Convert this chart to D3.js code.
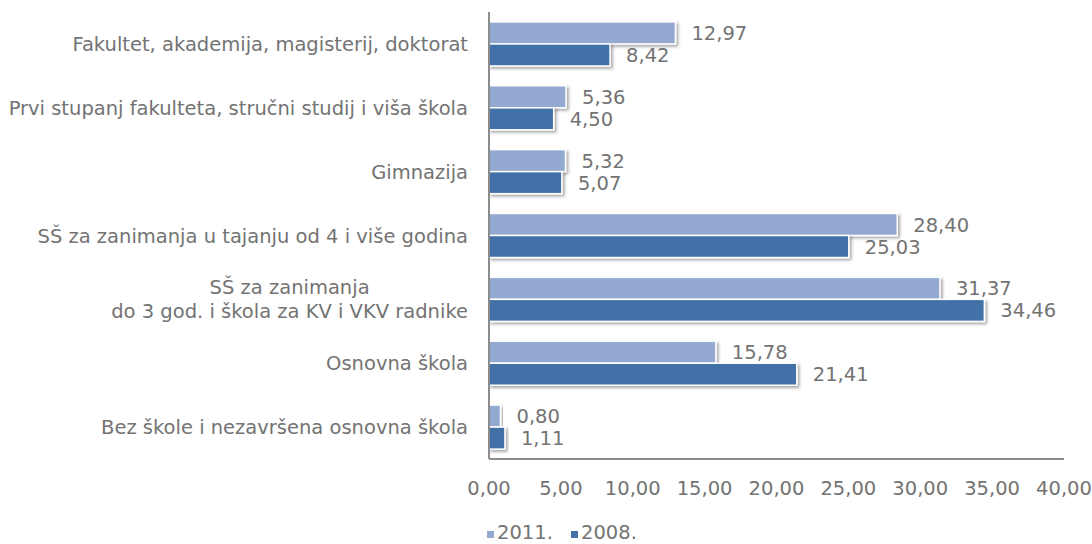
<!DOCTYPE html>
<html>
<head>
<meta charset="utf-8">
<script src="https://cdn.jsdelivr.net/npm/d3@7"></script>
<style>
  body { margin: 0; background: #fff; }
  text { font-family: 'DejaVu Sans', sans-serif; fill: #737373; }
</style>
</head>
<body>
<div id="chart"></div>
<script>
const width = 1092
const height = 544

const categories = [
  'Fakultet, akademija, magisterij, doktorat',
  'Prvi stupanj fakulteta, stručni studij i viša škola',
  'Gimnazija',
  'SŠ za zanimanja u tajanju od 4 i više godina',
  'SŠ za zanimanja\ndo 3 god. i škola za KV i VKV radnike',
  'Osnovna škola',
  'Bez škole i nezavršena osnovna škola'
]
const seriesNames = ['2011.', '2008.']
const values2011 = [12.97, 5.36, 5.32, 28.40, 31.37, 15.78, 0.80]
const values2008 = [8.42, 4.50, 5.07, 25.03, 34.46, 21.41, 1.11]
const xTicks = [0, 5, 10, 15, 20, 25, 30, 35, 40]
const colors = ['#94a9d1', '#4371a8']

const fmt = (v) => v.toFixed(2).replace('.', ',')
const fontSize = 19.5

const svg = d3.select('#chart').append('svg').attr('width', width).attr('height', height)

const defs = svg.append('defs')
const shadow = defs.append('filter').attr('id', 'shadow').attr('x', '-10%').attr('y', '-30%').attr('width', '130%').attr('height', '180%')
shadow.append('feDropShadow').attr('dx', 2).attr('dy', 2).attr('stdDeviation', 1.6)
  .attr('flood-color', '#000').attr('flood-opacity', 0.35)

const x = d3.scaleLinear().domain([0, 40]).range([489, 1064])
const y = d3.scaleBand().domain(categories).range([12, 459]).paddingInner(0.31).paddingOuter(0.155)
const ySub = d3.scaleBand().domain(seriesNames).range([0, y.bandwidth()])

const data = categories.flatMap((c, i) => [
  { cat: c, series: seriesNames[0], value: values2011[i], color: colors[0] },
  { cat: c, series: seriesNames[1], value: values2008[i], color: colors[1] }
])

// bars
svg.append('g')
  .selectAll('rect')
  .data(data)
  .join('rect')
  .attr('x', x(0))
  .attr('y', (d) => y(d.cat) + ySub(d.series))
  .attr('width', (d) => x(d.value) - x(0))
  .attr('height', ySub.bandwidth())
  .attr('fill', (d) => d.color)
  .attr('stroke', '#fff')
  .attr('stroke-width', 1.5)
  .attr('filter', 'url(#shadow)')

// value labels
svg.append('g')
  .attr('font-size', fontSize)
  .selectAll('text')
  .data(data)
  .join('text')
  .attr('x', (d) => x(d.value) + 16)
  .attr('y', (d) => y(d.cat) + ySub(d.series) + ySub.bandwidth() / 2)
  .attr('dy', '0.36em')
  .text((d) => fmt(d.value))

// axes lines
svg.append('line')
  .attr('x1', x(0)).attr('x2', x(0)).attr('y1', 12).attr('y2', 459)
  .attr('stroke', '#8c8c8c').attr('stroke-width', 2)
svg.append('line')
  .attr('x1', x(0)).attr('x2', x(40)).attr('y1', 459).attr('y2', 459)
  .attr('stroke', '#8c8c8c').attr('stroke-width', 2)

// x tick labels
svg.append('g')
  .attr('font-size', fontSize)
  .attr('text-anchor', 'middle')
  .selectAll('text')
  .data(xTicks)
  .join('text')
  .attr('x', (d) => x(d))
  .attr('y', 488)
  .attr('dy', '0.36em')
  .text((d) => fmt(d))

// category labels (multi-line labels centred as a block, block right-aligned)
const catG = svg.append('g').attr('font-size', fontSize)
categories.forEach((c) => {
  const lines = c.split('\n')
  const lineH = 24
  const cy = y(c) + y.bandwidth() / 2
  const t = catG.append('text')
    .attr('text-anchor', lines.length > 1 ? 'middle' : 'end')
  lines.forEach((l, j) => {
    t.append('tspan')
      .attr('y', cy + (j - (lines.length - 1) / 2) * lineH)
      .attr('dy', '0.36em')
      .text(l)
  })
  if (lines.length > 1) {
    const w = d3.max(t.selectAll('tspan').nodes(), (n) => n.getComputedTextLength())
    t.selectAll('tspan').attr('x', 468 - w / 2)
  } else {
    t.selectAll('tspan').attr('x', 468)
  }
})

// legend
const legend = svg.append('g').attr('font-size', fontSize)
const legendX = [487, 571]
seriesNames.forEach((s, i) => {
  legend.append('rect')
    .attr('x', legendX[i]).attr('y', 531).attr('width', 7).attr('height', 7)
    .attr('fill', colors[i])
  legend.append('text')
    .attr('x', legendX[i] + 10).attr('y', 532).attr('dy', '0.36em')
    .text(s)
})
</script>
</body>
</html>
